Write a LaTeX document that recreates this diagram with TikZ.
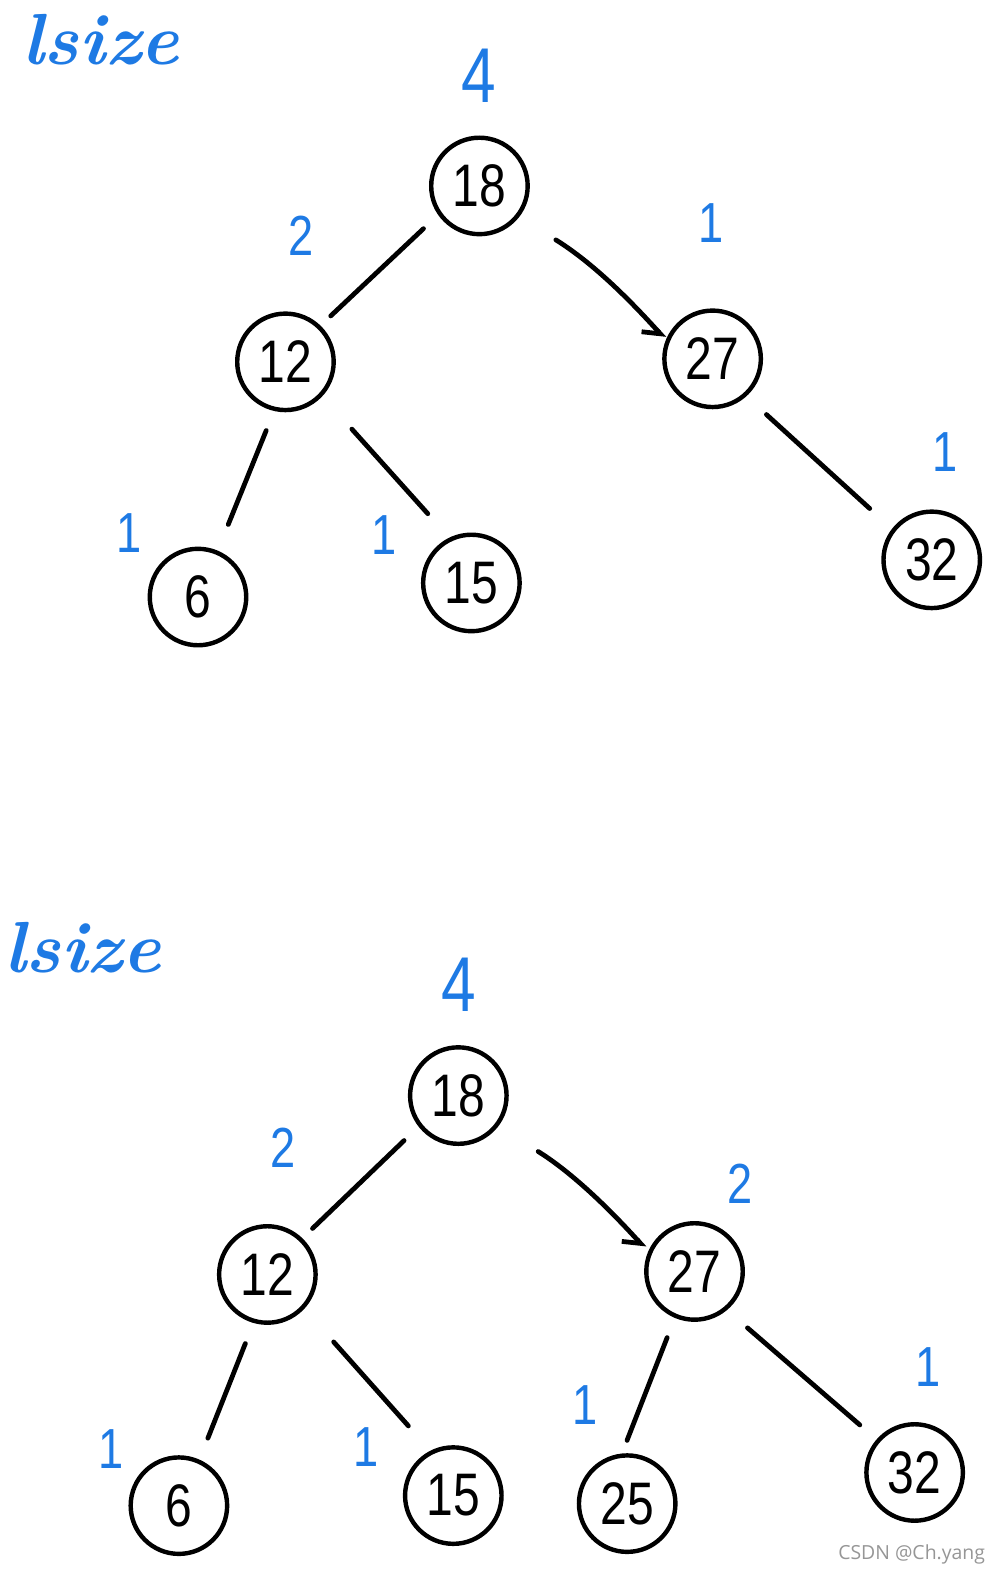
\documentclass[tikz,border=0pt]{standalone}
\usepackage{fontspec}
\setmainfont{Liberation Sans}
\newfontfamily\numfont[FakeStretch=0.8]{Liberation Sans}
\newfontfamily\wmfont{Open Sans}
\newfontfamily\ttlfont{Latin Modern Roman}
\usetikzlibrary{arrows.meta}
\definecolor{penblue}{RGB}{30,122,228}
\definecolor{wmgray}{RGB}{150,150,150}
\tikzset{
  cnode/.style={circle,draw=black,line width=2.5pt,minimum size=1.92cm,inner sep=0pt,font=\numfont\fontsize{34}{34}\selectfont},
  edge/.style={line width=2.7pt,line cap=round},
  arr/.style={edge,-{Straight Barb[right,length=0.28cm,width=0.5cm,line width=2.7pt]}},
  bl/.style={text=penblue,inner sep=0pt,font=\numfont\fontsize{32}{32}\selectfont},
  blbig/.style={text=penblue,inner sep=0pt,font=\numfont\fontsize{44}{44}\selectfont},
  title/.style={text=penblue,inner sep=0pt,anchor=base west,font=\ttlfont\bfseries\itshape\fontsize{41}{41}\selectfont},
  wm/.style={text=wmgray,inner sep=0pt,font=\wmfont\fontsize{11}{11}\selectfont}
}
\begin{document}
\begin{tikzpicture}[x=0.02cm,y=-0.02cm]
\useasboundingbox (0,0) rectangle (995,1568);
\fill[white] (0,0) rectangle (995,1568);
% ---------- top tree ----------
\node[title] (ttitle) at (22,64) {lsize};
\node[cnode] (t18) at (477,185) {18};
\node[cnode] (t12) at (284,360) {12};
\node[cnode] (t27) at (709,357) {27};
\node[cnode] (t6)  at (197,594) {6};
\node[cnode] (t15) at (469,580) {15};
\node[cnode] (t32) at (927,557) {32};
\node[blbig] (tl18) at (476,75) {4};
\node[bl] (tl12) at (300,235) {2};
\node[bl] (tl27) at (707,222) {1};
\node[bl] (tl6)  at (128,530) {1};
\node[bl] (tl15) at (382,532) {1};
\node[bl] (tl32) at (940,450) {1};
\draw[edge,shorten <=0.40cm,shorten >=0.28cm] (t18.215) -- (t12.46);
\draw[arr,shorten <=0.86cm,shorten >=0.04cm] (t18.322) to[bend left=8] (t27.158);
\draw[edge,shorten <=0.42cm,shorten >=0.56cm] (t12.257) -- (t6.67);
\draw[edge,shorten <=0.88cm,shorten >=0.64cm] (t12.317) -- (t15.116);
\draw[edge,shorten <=0.54cm,shorten >=0.60cm] (t27.312) -- (t32.142);
% ---------- bottom tree ----------
\node[title] (btitle) at (4,968) {lsize};
\node[cnode] (b18) at (456,1090) {18};
\node[cnode] (b12) at (266,1268) {12};
\node[cnode] (b27) at (691,1265) {27};
\node[cnode] (b6)  at (178,1498) {6};
\node[cnode] (b15) at (451,1488) {15};
\node[cnode] (b25) at (624,1496) {25};
\node[cnode] (b32) at (910,1465) {32};
\node[blbig] (bl18) at (456,980) {4};
\node[bl] (bl12) at (282,1142) {2};
\node[bl] (bl27) at (736,1178) {2};
\node[bl] (bl6)  at (111,1442) {1};
\node[bl] (bl15) at (364,1440) {1};
\node[bl] (bl25) at (582,1398) {1};
\node[bl] (bl32) at (923,1360) {1};
\draw[edge,shorten <=0.40cm,shorten >=0.28cm] (b18.218) -- (b12.46);
\draw[arr,shorten <=0.94cm,shorten >=0.10cm] (b18.322) to[bend left=8] (b27.157);
\draw[edge,shorten <=0.44cm,shorten >=0.46cm] (b12.254) -- (b6.66);
\draw[edge,shorten <=0.88cm,shorten >=0.66cm] (b12.317) -- (b15.117);
\draw[edge,shorten <=0.42cm,shorten >=0.28cm] (b27.247) -- (b25.96);
\draw[edge,shorten <=0.54cm,shorten >=0.44cm] (b27.310) -- (b32.139);
% watermark
\node[wm] (wmark) at (907,1547) {CSDN @Ch.yang};
\end{tikzpicture}
\end{document}
